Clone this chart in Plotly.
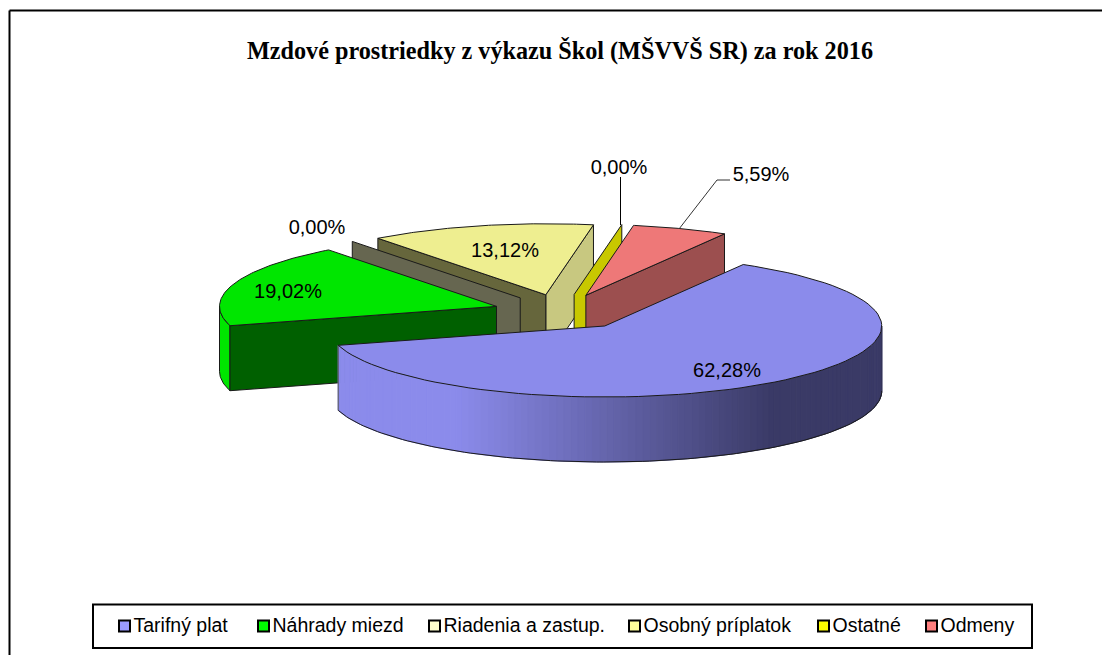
import math
import plotly.graph_objects as go

categories = ["Tarifný plat", "Náhrady miezd", "Riadenia a zastup.", "Osobný príplatok", "Ostatné", "Odmeny"]
values = [62.28, 19.02, 0.00, 13.12, 0.00, 5.59]
value_labels = ["62,28%", "19,02%", "0,00%", "13,12%", "0,00%", "5,59%"]
legend_colors = ["#9999FF", "#00FF00", "#FFFFCC", "#FFFF99", "#FFFF00", "#FF8080"]
top_colors = ["#8B8BEB", "#00E600", "#EEEE90", "#EEEE90", "#C8C800", "#EE7878"]
wall_colors = ["#8B8BEB", "#006000", "#666650", "#66663C", "#C8C800", "#9C4F4F"]
title_text = "Mzdové prostriedky z výkazu Škol (MŠVVŠ SR) za rok 2016"

# pie geometry on a pixel-scaled hidden axis
CX, CY, RX, RY, DEPTH, EXPLODE, START = 562.2, 312.0, 277.0, 71.0, 65.0, 0.25, 60.0
EDGE = "#1a1a1a"

# slice angles derived from the values (clockwise from START)
spans, t = [], START
for v in values:
    spans.append((t, t - v * 3.6))
    t -= v * 3.6


def apex(i):
    a, b = spans[i]
    m = math.radians((a + b) / 2)
    return CX + EXPLODE * RX * math.cos(m), CY - EXPLODE * RY * math.sin(m)


def rim(c, deg, dz=0.0):
    r = math.radians(deg)
    return c[0] + RX * math.cos(r), c[1] - RY * math.sin(r) + dz


def arc(c, a, b, dz=0.0, n=80):
    return [rim(c, a + (b - a) * k / n, dz) for k in range(n + 1)]


fig = go.Figure()


def poly(pts, fill, line=EDGE, width=1, name=None):
    fig.add_trace(go.Scatter(
        x=[p[0] for p in pts] + [pts[0][0]], y=[p[1] for p in pts] + [pts[0][1]],
        mode="lines", fill="toself", fillcolor=fill,
        line=dict(color=line, width=width), name=name, hoverinfo="skip", showlegend=False))


def stroke(pts, color="#000000", width=1):
    fig.add_trace(go.Scatter(
        x=[p[0] for p in pts], y=[p[1] for p in pts], mode="lines",
        line=dict(color=color, width=width), hoverinfo="skip", showlegend=False))


def flat_wall(i, deg):
    c = apex(i)
    p = rim(c, deg)
    return [c, p, (p[0], p[1] + DEPTH), (c[0], c[1] + DEPTH)]


def top(i):
    c = apex(i)
    a, b = spans[i]
    return [c] + arc(c, a, b)


TAR, NAH, RIA, OSO, OST, ODM = range(6)

# Osobný príplatok
poly(flat_wall(OSO, spans[OSO][1]), "#C8C880")
poly(flat_wall(OSO, spans[OSO][0]), wall_colors[OSO])
poly(top(OSO), top_colors[OSO], name=categories[OSO])

# Riadenia a zastup. (zero slice: only its wall shows)
poly(flat_wall(RIA, spans[RIA][0]), wall_colors[RIA], name=categories[RIA])

# Náhrady miezd
c = apex(NAH)
side_a = spans[NAH][0] % 360
poly(arc(c, 180, side_a, 0, 20) + arc(c, side_a, 180, DEPTH, 20), top_colors[NAH], width=1)
poly(flat_wall(NAH, side_a), wall_colors[NAH])
poly(top(NAH), top_colors[NAH], name=categories[NAH])

# Ostatné (zero slice)
poly(flat_wall(OST, spans[OST][0]), wall_colors[OST], name=categories[OST])

# Odmeny
poly(flat_wall(ODM, spans[ODM][1]), wall_colors[ODM])
poly(top(ODM), top_colors[ODM], name=categories[ODM])

# Tarifný plat: curved side with shading, then top
c = apex(TAR)
light, dark = (139, 139, 235), (58, 58, 102)
a_start = spans[TAR][1] % 360
N = 110
for k in range(N):
    u = a_start + (360 - a_start) * k / N
    v = a_start + (360 - a_start) * (k + 1) / N
    x_mid = rim(c, (u + v) / 2)[0]
    f = (x_mid - 337) / (882 - 337)
    f = min(1, max(0, (f - 0.22) / (0.80 - 0.22)))
    col = "rgb(%d,%d,%d)" % tuple(round(light[j] + (dark[j] - light[j]) * f) for j in range(3))
    poly([rim(c, u), rim(c, v), rim(c, v, DEPTH), rim(c, u, DEPTH)], col, line=col, width=1)
stroke(arc(c, a_start, 360, DEPTH, 120), EDGE)
stroke([rim(c, a_start), rim(c, a_start, DEPTH)], "#555555")
stroke([rim(c, 360), rim(c, 360, DEPTH)], "#333355")
poly(top(TAR), top_colors[TAR], name=categories[TAR])

# leader lines
stroke([(620.5, 225), (620.5, 177)], "#000000")
stroke([(679, 229), (717, 180), (730, 180)], "#333333")

# data labels
label_font = dict(family="Liberation Sans, Arial", size=20, color="#000000")
label_x = [727, 288, 317, 505, 619, 761]
label_y = [372, 293, 229, 252, 169, 176]
fig.add_trace(go.Scatter(x=label_x, y=label_y, mode="text", text=value_labels,
                         textposition="middle center", textfont=label_font,
                         hoverinfo="skip", showlegend=False))

# legend
legend_x = [124.5, 263.5, 434.5, 634.5, 823.5, 931.5]
fig.add_trace(go.Scatter(x=legend_x, y=[626] * 6, mode="markers",
                         marker=dict(symbol="square", size=11, color=legend_colors,
                                     line=dict(color="#000000", width=2)),
                         hoverinfo="skip", showlegend=False))
fig.add_trace(go.Scatter(x=[p + 9 for p in legend_x], y=[627.5] * 6, mode="text", text=categories,
                         textposition="middle right",
                         textfont=dict(family="Liberation Sans, Arial", size=19.5, color="#000000"),
                         hoverinfo="skip", showlegend=False))

fig.update_layout(
    width=1102, height=655, margin=dict(l=0, r=0, t=0, b=0),
    paper_bgcolor="white", plot_bgcolor="white", showlegend=False,
    xaxis=dict(range=[0, 1102], visible=False, fixedrange=True),
    yaxis=dict(range=[655, 0], visible=False, fixedrange=True),
    title=dict(text="<b>" + title_text + "</b>", x=560 / 1102, xanchor="center",
               y=1 - 51 / 655, yanchor="middle",
               font=dict(family="Liberation Serif, Times New Roman", size=24.2, color="#000000")),
    shapes=[
        dict(type="line", xref="x", yref="y", x0=9.5, y0=10.5, x1=9.5, y1=655, line=dict(color="#000", width=2)),
        dict(type="line", xref="x", yref="y", x0=9.5, y0=10.5, x1=1102, y1=10.5, line=dict(color="#000", width=2)),
        dict(type="rect", xref="x", yref="y", x0=93, y0=604.5, x1=1032, y1=648, line=dict(color="#000", width=2)),
    ],
)
fig.write_html("out.html", config={"displayModeBar": False},
               post_script="document.body.style.margin='0';document.body.style.overflow='hidden';")
